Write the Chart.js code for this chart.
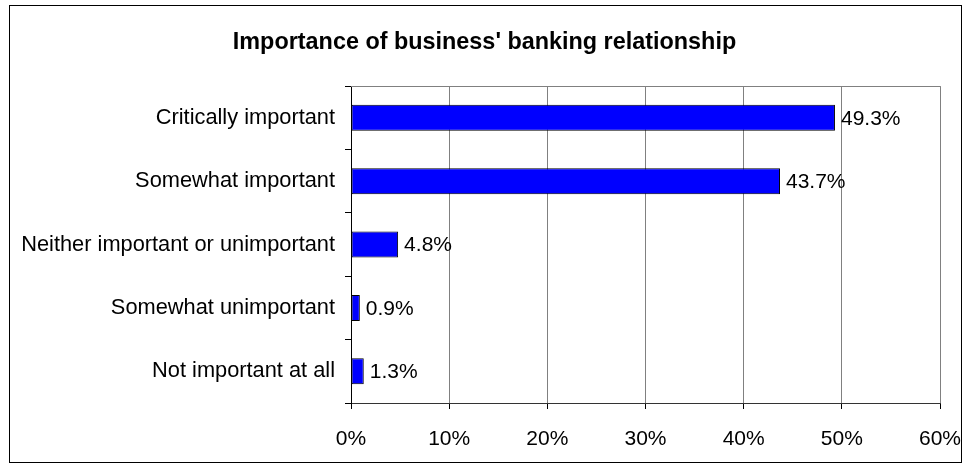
<!DOCTYPE html>
<html>
<head>
<meta charset="utf-8">
<script src="https://cdn.jsdelivr.net/npm/chart.js"></script>
<style>
  html, body { margin: 0; padding: 0; background: #fff; }
  #wrap { width: 969px; height: 469px; }
</style>
</head>
<body>
<div id="wrap"><canvas id="bankChart" width="969" height="469"></canvas></div>
<script>
const categories = [
  "Critically important",
  "Somewhat important",
  "Neither important or unimportant",
  "Somewhat unimportant",
  "Not important at all"
];
const shares = [49.3, 43.7, 4.8, 0.9, 1.3];
const xTickLabels = ["0%", "10%", "20%", "30%", "40%", "50%", "60%"];

const FONT = "Arial, 'Liberation Sans', sans-serif";

// outer frame + top edge of plot area
const framePlugin = {
  id: "frame",
  beforeDraw(chart) {
    const c = chart.ctx;
    c.save();
    c.fillStyle = "#fff";
    c.fillRect(0, 0, chart.width, chart.height);
    c.strokeStyle = "#000";
    c.lineWidth = 1;
    c.strokeRect(9.5, 5.5, 952, 457);
    c.restore();
  },
  afterDraw(chart) {
    const a = chart.chartArea;
    const c = chart.ctx;
    c.save();
    c.strokeStyle = "#808080";
    c.lineWidth = 1;
    c.beginPath();
    c.moveTo(a.left, Math.round(a.top) + 0.5);
    c.lineTo(a.right, Math.round(a.top) + 0.5);
    c.stroke();
    c.restore();
  }
};

// value labels at bar ends
const valueLabels = {
  id: "valueLabels",
  afterDatasetsDraw(chart) {
    const c = chart.ctx;
    const meta = chart.getDatasetMeta(0);
    c.save();
    c.font = "21px " + FONT;
    c.fillStyle = "#000";
    c.textAlign = "left";
    c.textBaseline = "middle";
    meta.data.forEach((bar, i) => {
      c.fillText(shares[i].toFixed(1) + "%", bar.x + 6, bar.y + 1);
    });
    c.restore();
  }
};

new Chart(document.getElementById("bankChart"), {
  type: "bar",
  data: {
    labels: categories,
    datasets: [{
      data: shares,
      backgroundColor: "#0000ff",
      borderColor: "#000",
      borderWidth: 1,
      borderSkipped: false,
      barPercentage: 0.41,
      categoryPercentage: 1
    }]
  },
  options: {
    indexAxis: "y",
    responsive: false,
    animation: false,
    layout: { padding: { top: 29, right: 0, bottom: 0, left: 0 } },
    plugins: {
      legend: { display: false },
      tooltip: { enabled: false },
      title: {
        display: true,
        text: "Importance of business' banking relationship",
        color: "#000",
        font: { family: FONT, size: 23.4, weight: "bold" },
        padding: { top: 0, bottom: 29 }
      }
    },
    scales: {
      x: {
        min: 0,
        max: 60,
        ticks: {
          stepSize: 10,
          color: "#000",
          font: { family: FONT, size: 21 },
          padding: 18,
          callback: (v) => xTickLabels[v / 10]
        },
        grid: { color: "#808080", tickColor: "#000", tickLength: 6 },
        border: { color: "#333", width: 1 },
        afterFit(s) {
          s.height = 66;
          s.paddingLeft = 0;
          s.paddingRight = 29;
        }
      },
      y: {
        ticks: {
          color: "#000",
          font: { family: FONT, size: 21.8 },
          padding: 10
        },
        grid: { drawOnChartArea: false, tickColor: "#000", tickLength: 6, offset: true },
        border: { color: "#000", width: 1 },
        afterFit(s) { s.width = 351; }
      }
    }
  },
  plugins: [framePlugin, valueLabels]
});
</script>
</body>
</html>
